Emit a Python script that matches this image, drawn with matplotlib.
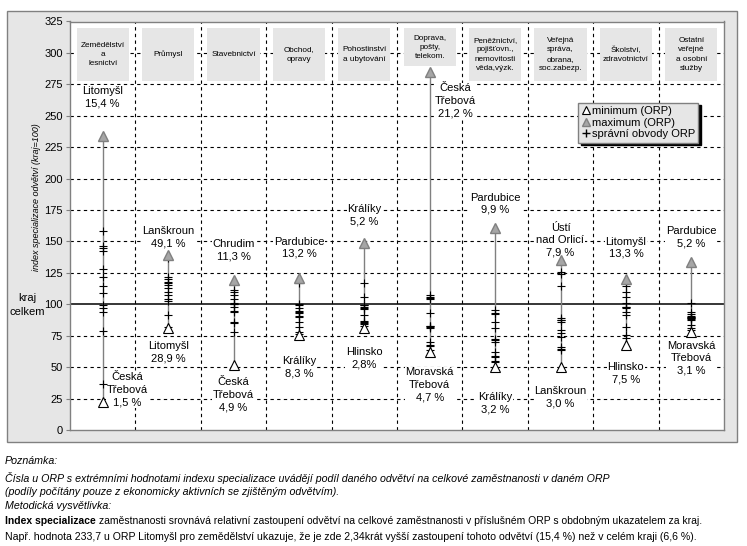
import matplotlib
matplotlib.use("Agg")
import matplotlib.pyplot as plt
from matplotlib.patches import Rectangle
from matplotlib.lines import Line2D

plt.rcParams['font.family'] = ['Liberation Sans', 'DejaVu Sans']

# odvětví (záhlaví sloupců)
categories = ["Zemědělství\na\nlesnictví", "Průmysl", "Stavebnictví", "Obchod,\nopravy",
              "Pohostinství\na ubytování", "Doprava,\npošty,\ntelekom.",
              "Peněžnictví,\npojišťovn.,\nnemovitosti\nvěda,výzk.",
              "Veřejná\nspráva,\nobrana,\nsoc.zabezp.", "Školství,\nzdravotnictví",
              "Ostatní\nveřejné\na osobní\nslužby"]

# maximum a minimum indexu (ORP)
max_vals = [233.7, 139.0, 119.3, 120.7, 148.5, 285.0, 160.5, 135.2, 119.9, 133.9]
min_vals = [22.0, 81.0, 51.7, 75.6, 80.9, 62.3, 50.4, 50.4, 67.6, 78.2]

# ostatní správní obvody ORP
orp_vals = [
    [158, 146, 144.5, 142.7, 128, 121.5, 114.8, 109.3, 99.4, 96.8, 94, 79, 36.3],
    [137, 122, 120, 118, 117, 115.5, 112.7, 110, 107.6, 104.6, 103, 91.5, 82],
    [111.4, 109.5, 107.4, 104, 101.3, 100.6, 100, 98, 94.5, 93.8, 86.2, 84.9, 78.2],
    [117.2, 100.4, 99.6, 97.3, 95, 93.8, 93, 91, 89.6, 86.2, 82.2, 78.2, 76.5],
    [116.7, 106, 99.8, 99.2, 97.5, 96.8, 96.2, 91.5, 87, 86.2, 84.9, 84.3, 82.5],
    [107.4, 105.6, 104.8, 104, 92.8, 83, 82.4, 81.9, 81.4, 70.2, 67.6, 66.5, 64],
    [95.5, 93.3, 92.3, 86.2, 80.9, 72.1, 71.5, 70.2, 62.3, 59, 58.3, 55, 54.4],
    [126, 124.1, 114.6, 88.8, 87.9, 87.5, 86.2, 79.6, 76.9, 73.7, 65.8, 64.5, 63.6],
    [118, 114.6, 110, 106, 101.3, 98.1, 97.5, 96.8, 94.1, 91.5, 82.2, 75.6, 72.9],
    [101.3, 94.1, 92.3, 90.6, 90.1, 89.8, 89.4, 88.8, 88.1, 87.5, 83.5, 80.9, 79.5],
]

max_labels = ["Litomyšl\n15,4 %", "Lanškroun\n49,1 %", "Chrudim\n11,3 %", "Pardubice\n13,2 %",
              "Králíky\n5,2 %", "Česká\nTřebová\n21,2 %", "Pardubice\n9,9 %",
              "Ústí\nnad Orlicí\n7,9 %", "Litomyšl\n13,3 %", "Pardubice\n5,2 %"]
min_labels = ["Česká\nTřebová\n1,5 %", "Litomyšl\n28,9 %", "Česká\nTřebová\n4,9 %",
              "Králíky\n8,3 %", "Hlinsko\n2,8%", "Moravská\nTřebová\n4,7 %",
              "Králíky\n3,2 %", "Lanškroun\n3,0 %", "Hlinsko\n7,5 %", "Moravská\nTřebová\n3,1 %"]

# umístění popisků (x posun, y)
max_lab_pos = [(0, 265), (0, 153), (0, 143), (0, 145), (0, 171),
               (0.39, 262), (0, 180), (0, 151), (0, 145), (0, 153)]
min_lab_pos = [(0.37, 32), (0, 62), (0, 28), (0, 50), (0, 57),
               (0, 36), (0, 21), (0, 26), (0, 45), (0, 57)]
box_bottom = [278, 278, 278, 278, 278, 289.5, 278, 278, 278, 278]

fig = plt.figure(figsize=(7.47, 5.46), dpi=100)
fig.patches.append(Rectangle((7 / 747, 1 - 442 / 546), 730 / 747, 431 / 546,
                             transform=fig.transFigure, facecolor='#e6e6e6',
                             edgecolor='#808080', lw=1, zorder=-10))
ax = fig.add_axes([70 / 747, 1 - 430 / 546, 654 / 747, 408.5 / 546])
ax.set_facecolor('white')

n = len(categories)
xs = list(range(1, n + 1))
ax.set_xlim(0.5, n + 0.5)
ax.set_ylim(0, 325)

# mřížka
yt = list(range(0, 326, 25))
for y in yt:
    if y in (0, 100, 325):
        continue
    ax.axhline(y, color='black', lw=0.8, ls=(0, (3, 3)), zorder=1)
for i in range(1, n):
    ax.axvline(i + 0.5, color='black', lw=0.8, ls=(0, (3, 3)), zorder=1)
ax.axhline(100, color='black', lw=1.1, zorder=2)

# záhlaví
for i, x in enumerate(xs):
    ax.add_patch(Rectangle((x - 0.4, box_bottom[i]), 0.8, 319.5 - box_bottom[i],
                           facecolor='#e6e6e6', edgecolor='none', zorder=3))
    ax.text(x, (box_bottom[i] + 319.5) / 2, categories[i], ha='center', va='center',
            fontsize=5.9, linespacing=1.45, zorder=4)

for i, x in enumerate(xs):
    ax.plot([x, x], [min_vals[i], max_vals[i]], color='#808080', lw=1, zorder=5)
    ax.plot([x] * len(orp_vals[i]), orp_vals[i], ls='none', marker='+', color='black',
            ms=5.5, mew=0.8, zorder=6)
    ax.plot([x], [max_vals[i]], ls='none', marker='^', ms=7, mfc='#a6a6a6',
            mec='#808080', zorder=7)
    ax.plot([x], [min_vals[i]], ls='none', marker='^', ms=7, mfc='white',
            mec='black', mew=0.8, zorder=7)
    dx, y = max_lab_pos[i]
    ax.text(x + dx, y, max_labels[i], ha='center', va='center', fontsize=8,
            linespacing=1.3, zorder=4,
            bbox=dict(facecolor='white', edgecolor='none', pad=0.5))
    dx, y = min_lab_pos[i]
    ax.text(x + dx, y, min_labels[i], ha='center', va='center', fontsize=8,
            linespacing=1.3, zorder=4,
            bbox=dict(facecolor='white', edgecolor='none', pad=0.5))

ax.set_xticks([])
ax.set_yticks(yt)
ax.tick_params(axis='y', labelsize=8, length=3, color='#808080', pad=2)
for s in ax.spines.values():
    s.set_color('#808080')
    s.set_linewidth(1)

fig.text(37 / 747, 1 - 197 / 546, "index specializace odvětví (kraj=100)", rotation=90,
         style='italic', fontsize=6.5, ha='center', va='center')
fig.text(27 / 747, 1 - 305 / 546, "kraj\ncelkem", fontsize=8, ha='center', va='center',
         linespacing=1.4)

handles = [
    Line2D([], [], ls='none', marker='^', ms=6, mfc='white', mec='black', mew=0.8),
    Line2D([], [], ls='none', marker='^', ms=6, mfc='#a6a6a6', mec='#808080'),
    Line2D([], [], ls='none', marker='+', ms=6, color='black'),
]
leg = ax.legend(handles, ["minimum (ORP)", "maximum (ORP)", "správní obvody ORP"],
                loc='upper left', bbox_to_anchor=(0.769, 0.815), fontsize=8,
                handlelength=0.7, handletextpad=0.2, borderpad=0.3, labelspacing=0.15,
                fancybox=False, framealpha=1, facecolor='#e6e6e6', edgecolor='#808080',
                shadow={'color': 'black', 'alpha': 1})
leg.set_zorder(10)

notes = [
    (461, "Poznámka:"),
    (478, "Čísla u ORP s extrémními hodnotami indexu specializace uvádějí podíl daného odvětví na celkové zaměstnanosti v daném ORP"),
    (492, "(podíly počítány pouze z ekonomicky aktivních se zjištěným odvětvím)."),
    (506, "Metodická vysvětlivka:"),
]
for y, t in notes:
    fig.text(5 / 747, 1 - y / 546, t, fontsize=7.7, style='italic', va='center')

t1 = fig.text(5 / 747, 1 - 521 / 546, "Index specializace", fontsize=7.5,
              weight='bold', va='center')
fig.canvas.draw()
bb = t1.get_window_extent()
fig.text(bb.x1 / 747 + 3 / 747, 1 - 521 / 546,
         "zaměstnanosti srovnává relativní zastoupení odvětví na celkové zaměstnanosti "
         "v příslušném ORP s obdobným ukazatelem za kraj.", fontsize=7.5, va='center')
fig.text(5 / 747, 1 - 537 / 546,
         "Např. hodnota 233,7 u ORP Litomyšl pro zemědělství ukazuje, že je zde 2,34krát "
         "vyšší zastoupení tohoto odvětví (15,4 %) než v celém kraji (6,6 %).",
         fontsize=7.6, va='center')

fig.savefig("out.png", dpi=100)
